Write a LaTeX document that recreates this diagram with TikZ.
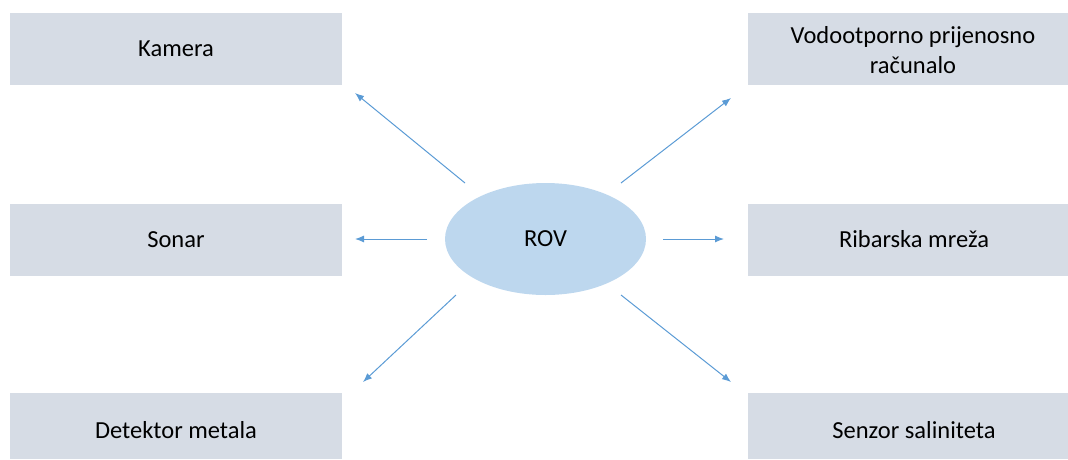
\documentclass[tikz,border=0pt]{standalone}
\usepackage{fontspec}
\setmainfont{Carlito}
\usetikzlibrary{arrows.meta,shapes.geometric}
\definecolor{boxfill}{HTML}{D6DCE5}
\definecolor{ellfill}{HTML}{BDD7EE}
\definecolor{arrowc}{HTML}{5B9BD5}
\begin{document}
\begin{tikzpicture}[x=1pt,y=-1pt,
  txt/.style={font=\fontsize{24.5}{29.5}\selectfont,align=center},
  box/.style={fill=boxfill,draw=none,inner sep=0pt},
  conn/.style={draw=arrowc,line width=1pt,-{Latex[length=9pt,width=7pt]}}]
\useasboundingbox (0,0) rectangle (1068,459);
% boxes
\node[box,minimum width=332pt,minimum height=72pt] (kam) at (176,49) {};
\node[txt] (kamt) at (176,49) {Kamera};
\node[box,minimum width=332pt,minimum height=72pt] (son) at (176,239.5) {};
\node[txt] (sont) at (176,239.5) {Sonar};
\node[box,minimum width=332pt,minimum height=66pt] (det) at (176,426) {};
\node[txt] (dett) at (176,430) {Detektor metala};
\node[box,minimum width=320pt,minimum height=72pt] (vod) at (908,49) {};
\node[txt] (vodt) at (913,50) {Vodootporno prijenosno\\računalo};
\node[box,minimum width=320pt,minimum height=72pt] (rib) at (908,239.5) {};
\node[txt] (ribt) at (914,239.5) {Ribarska mreža};
\node[box,minimum width=320pt,minimum height=66pt] (sen) at (908,426) {};
\node[txt] (sent) at (914,430) {Senzor saliniteta};
% center
\node[ellipse,fill=ellfill,minimum width=201pt,minimum height=112pt,inner sep=0pt,txt] (rov) at (545.5,239) {ROV};
% coordinates
\coordinate (a1s) at (465,183); \coordinate (a1e) at (355,93);
\coordinate (a2s) at (427,239); \coordinate (a2e) at (355,239);
\coordinate (a3s) at (456,295); \coordinate (a3e) at (363,382);
\coordinate (a4s) at (621,183); \coordinate (a4e) at (731,98);
\coordinate (a5s) at (663,239); \coordinate (a5e) at (724,239);
\coordinate (a6s) at (621,295); \coordinate (a6e) at (731,382);
\draw[conn] (a1s) -- (a1e);
\draw[conn] (a2s) -- (a2e);
\draw[conn] (a3s) -- (a3e);
\draw[conn] (a4s) -- (a4e);
\draw[conn] (a5s) -- (a5e);
\draw[conn] (a6s) -- (a6e);
\end{tikzpicture}
\end{document}
